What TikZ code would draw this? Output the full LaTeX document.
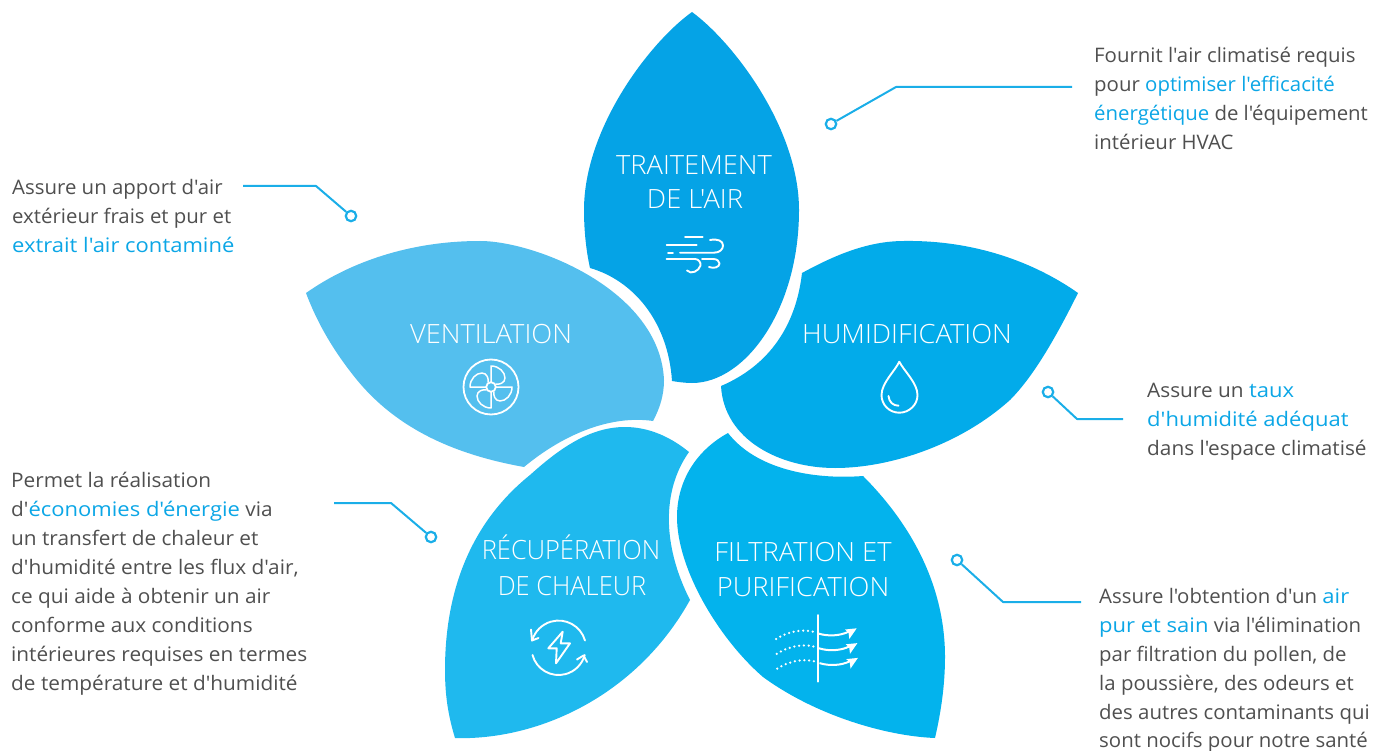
\documentclass[tikz,border=0pt]{standalone}
\usepackage{fontspec}
\newfontfamily\bodyf{Open Sans}[FakeStretch=1.02]
\newfontfamily\bodyw{Open Sans}[FakeStretch=1.04]
\newfontfamily\hif{Open Sans}[FakeStretch=1.10]
\newfontfamily\titlef{Open Sans Light}[FakeStretch=1.03]
\newfontfamily\titlen{Open Sans Light}[FakeStretch=0.96]
\definecolor{ptop}{HTML}{05A3E6}
\definecolor{pvent}{HTML}{54BFEE}
\definecolor{phum}{HTML}{02ABEA}
\definecolor{prec}{HTML}{1FB9EE}
\definecolor{pfil}{HTML}{03B3ED}
\definecolor{hl}{HTML}{0BA6E6}
\definecolor{bodytxt}{HTML}{4F4F4F}
\definecolor{leader}{HTML}{1AAEE8}
\newcommand{\hi}[1]{\textcolor{hl}{#1}}
\newcommand{\hib}[1]{\textcolor{hl}{\hif #1}}
\tikzset{
  body/.style={inner sep=0pt,anchor=north west,align=left,text=bodytxt,font=\bodyf\fontsize{20}{29}\selectfont},
  title/.style={inner sep=0pt,anchor=base,text=white,font=\titlef\fontsize{26.5}{35}\selectfont},
  ldot/.style={circle,draw=leader,line width=2.2pt,fill=white,inner sep=0pt,minimum size=10.5pt},
  lline/.style={draw=leader,line width=2pt,line join=round},
  ico/.style={draw=white,line width=1.9pt,line cap=round,line join=round}
}
\begin{document}
\begin{tikzpicture}[x=1pt,y=-1pt]
\useasboundingbox (0,0) rectangle (1380,751);
% petals
\fill[ptop] (692,12) .. controls (733,42) and (799,128) .. (799,210)
 .. controls (799,310) and (745,383) .. (692,383) .. controls (685,383) and (678,382) .. (672,381)
 .. controls (668,320) and (632,280) .. (590,268) .. controls (586,250) and (584,230) .. (584,210)
 .. controls (584,128) and (650,42) .. (692,12) -- cycle;
\fill[pvent] (306,293) .. controls (350,262) and (410,241) .. (480,241) .. controls (535,241) and (660,290) .. (664,380)
 .. controls (664,395) and (660,408) .. (653,421) .. controls (612,415) and (565,433) .. (524,467)
 .. controls (440,452) and (390,420) .. (357,380) .. controls (335,353) and (318,325) .. (306,293) -- cycle;
\fill[phum] (1078,293) .. controls (1034,262) and (974,240) .. (904,241) .. controls (868,241) and (835,255) .. (802,273)
 .. controls (796,325) and (770,365) .. (721,386) .. controls (724,440) and (780,468) .. (835,468)
 .. controls (890,468) and (960,445) .. (1010,400) .. controls (1035,375) and (1058,333) .. (1078,293) -- cycle;
\fill[prec] (455,738) .. controls (448,715) and (445,695) .. (445,670) .. controls (445,595) and (468,525) .. (530,475)
 .. controls (560,448) and (590,427) .. (625,427) .. controls (650,427) and (672,438) .. (689,452)
 .. controls (662,490) and (662,545) .. (690,600) .. controls (640,690) and (550,735) .. (470,738) -- cycle;
\fill[pfil] (728,433) .. controls (755,468) and (810,480) .. (863,476) .. controls (915,528) and (945,590) .. (945,657)
 .. controls (945,685) and (941,712) .. (935,738) .. controls (885,736) and (815,715) .. (763,677)
 .. controls (720,640) and (677,570) .. (677,517) .. controls (677,480) and (697,450) .. (728,433) -- cycle;
% titles
\node[title] (t1a) at (694,175) {TRAITEMENT};
\node[title] (t1b) at (695,209) {DE L'AIR};
\node[title] (t2) at (491,343) {VENTILATION};
\node[title] (t3) at (907,343) {HUMIDIFICATION};
\node[title,font=\titlen\fontsize{26.5}{35}\selectfont] (t4a) at (571,559) {RÉCUPÉRATION};
\node[title,font=\titlen\fontsize{26.5}{35}\selectfont] (t4b) at (572,595) {DE CHALEUR};
\node[title] (t5a) at (803,561) {FILTRATION ET};
\node[title] (t5b) at (803,596) {PURIFICATION};
% wind icon
\draw[ico] (685,237.3)--(702.7,237.3);
\draw[ico] (666.7,245)--(696.7,245);
\draw[ico] (668,252.7)--(673,252.7);
\draw[ico] (680,252.7)--(714,252.7) .. controls (720,252.7) and (723,249) .. (723,245.5) .. controls (723,241) and (718,238.5) .. (710,240);
\draw[ico] (666.5,259)--(695,259) .. controls (699,259) and (701,263) .. (700.5,265.5) .. controls (699,271) and (691,275) .. (687,270.5);
\draw[ico] (702,259)--(713,259) .. controls (717,259) and (719.5,261) .. (719.5,263.5) .. controls (719.5,267) and (714,269) .. (709,267);
% fan icon
\draw[white,line width=1.8pt] (491,387) circle (27.5);
\draw[white,line width=1.8pt] (491,387) circle (4.8);
\foreach \a in {0,90,180,270}{
  \begin{scope}[shift={(491,387)},rotate=\a]
  \draw[white,line width=1.5pt,line join=round] (0,-5) -- (0,-21) .. controls (8,-21) and (14,-15) .. (14,-9) .. controls (14,-4) and (8,-2) .. (4.5,-3);
  \end{scope}}
% drop icon
\draw[ico] (899.3,361.7) .. controls (904,371) and (917.5,383) .. (917.5,395) .. controls (917.5,405) and (909,412.7) .. (899.3,412.7) .. controls (889.5,412.7) and (881.5,405) .. (881.5,395) .. controls (881.5,383) and (895,371) .. (899.3,361.7) -- cycle;
\draw[ico] (888.5,396) .. controls (889,402) and (893,405.7) .. (898.5,405.7);
% energy icon
\draw[ico] (585,640.5) arc[start angle=-16,end angle=-164,radius=27.5];
\draw[ico] (532.5,655) arc[start angle=165,end angle=15,radius=27];
\draw[ico] (531,629.5) -- (532,640.5) -- (538.5,638);
\draw[ico] (577,659.5) -- (583.5,655.5) -- (587,662);
\draw[ico] (562.7,631.7) -- (548.3,648.3) -- (556.7,648.3) -- (556,663.3) -- (570,643.3) -- (560.7,643.3) -- cycle;
% filter icon
\draw[ico] (818.3,615) -- (818.3,681.7);
\foreach \dx/\dy in {0/0,0.7/14.8,1.2/29.6}{
  \begin{scope}[shift={(\dx,\dy)}]
  \draw[white,line width=2.5pt,line cap=round,dash pattern=on 0pt off 4.8pt] (776,639) .. controls (785,633) and (802,627.5) .. (816,632.5);
  \draw[white,line width=2pt] (818.3,633.5) .. controls (828,636.5) and (840,636) .. (849,631.5);
  \fill[white] (856.7,628.3) -- (845,629.5) -- (848.5,632.5) -- (849.3,639) -- cycle;
  \end{scope}}
% body text
\node[body] (a) at (1094,47) {Fournit l'air climatisé requis\\pour \hi{optimiser l'efficacité}\\\hi{énergétique} de l'équipement\\intérieur HVAC};
\node[body] (b) at (12,179) {Assure un apport d'air\\extérieur frais et pur et\\\hib{extrait l'air contaminé}};
\node[body,font=\bodyw\fontsize{20}{29}\selectfont] (c) at (1147,383) {Assure un \hib{taux}\\\hib{d'humidité adéquat}\\dans l'espace climatisé};
\node[body,font=\bodyw\fontsize{20}{29}\selectfont] (d) at (11,472) {Permet la réalisation\\d'\hib{économies d'énergie} via\\un transfert de chaleur et\\d'humidité entre les flux d'air,\\ce qui aide à obtenir un air\\conforme aux conditions\\intérieures requises en termes\\de température et d'humidité};
\node[body,font=\bodyf\fontsize{20}{28.8}\selectfont] (e) at (1099,588.5) {Assure l'obtention d'un \hib{air}\\\hib{pur et sain} via l'élimination\\par filtration du pollen, de\\la poussière, des odeurs et\\des autres contaminants qui\\sont nocifs pour notre santé};
% leaders
\node[ldot] (d1) at (831,124) {};
\node[ldot] (d2) at (351,216) {};
\node[ldot] (d3) at (1048,392) {};
\node[ldot] (d4) at (431,537) {};
\node[ldot] (d5) at (957,560) {};
\coordinate (l1a) at (1072,87); \coordinate (l1b) at (896,87);
\coordinate (l2a) at (243,186); \coordinate (l2b) at (316,186);
\coordinate (l3a) at (1123,419); \coordinate (l3b) at (1077,419);
\coordinate (l4a) at (334,503); \coordinate (l4b) at (391,503);
\coordinate (l5a) at (1081,602); \coordinate (l5b) at (1003,602);
\draw[lline] (l1a) -- (l1b) -- (d1);
\draw[lline] (l2a) -- (l2b) -- (d2);
\draw[lline] (l3a) -- (l3b) -- (d3);
\draw[lline] (l4a) -- (l4b) -- (d4);
\draw[lline] (l5a) -- (l5b) -- (d5);
\end{tikzpicture}
\end{document}
